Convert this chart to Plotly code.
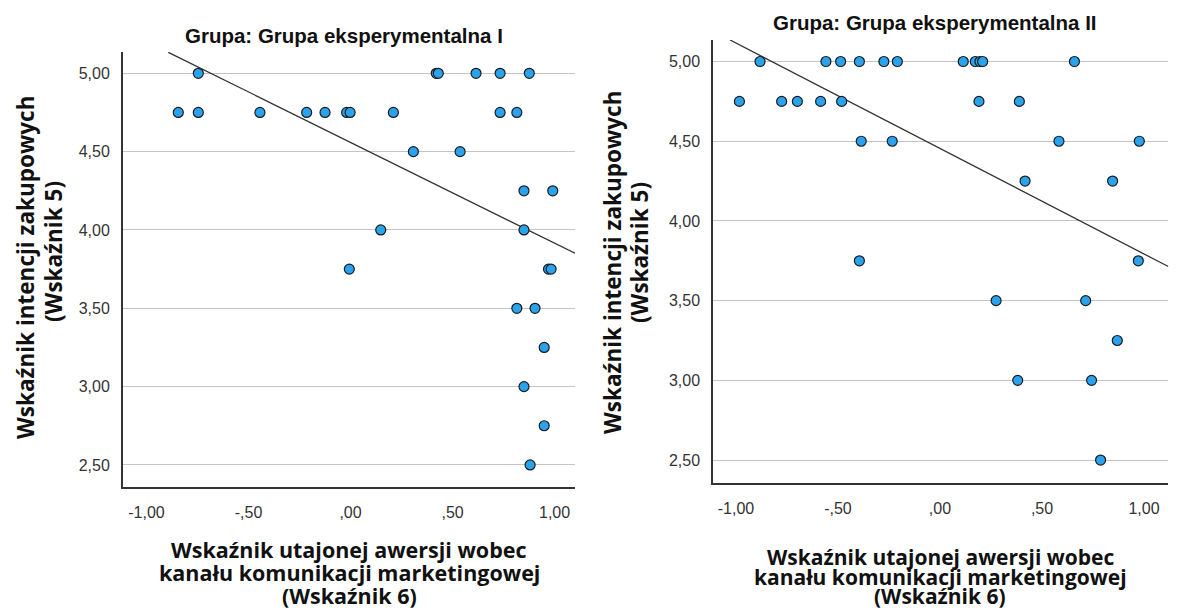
import plotly.graph_objects as go

W, H = 1177, 612

# ---------------- data ----------------
tick_vals_x = [-1.0, -0.5, 0.0, 0.5, 1.0]
tick_text_x = ["-1,00", "-,50", ",00", ",50", "1,00"]
tick_vals_y = [2.5, 3.0, 3.5, 4.0, 4.5, 5.0]
tick_text_y = ["2,50", "3,00", "3,50", "4,00", "4,50", "5,00"]

title_left = "Grupa: Grupa eksperymentalna I"
title_right = "Grupa: Grupa eksperymentalna II"
y_title_lines = ["Wskaźnik intencji zakupowych", "(Wskaźnik 5)"]
x_title_lines = ["Wskaźnik utajonej awersji wobec",
                 "kanału komunikacji marketingowej",
                 "(Wskaźnik 6)"]

g1_x = [-0.746, 0.42, 0.43, 0.615, 0.733, 0.876,
        -0.844, -0.746, -0.444, -0.215, -0.125, -0.019, -0.002, 0.21, 0.733, 0.815,
        0.308, 0.537,
        0.850, 0.991,
        0.148, 0.850,
        -0.006, 0.970, 0.983,
        0.815, 0.904,
        0.949,
        0.850,
        0.949,
        0.880]
g1_y = [5.0, 5.0, 5.0, 5.0, 5.0, 5.0,
        4.75, 4.75, 4.75, 4.75, 4.75, 4.75, 4.75, 4.75, 4.75, 4.75,
        4.5, 4.5,
        4.25, 4.25,
        4.0, 4.0,
        3.75, 3.75, 3.75,
        3.5, 3.5,
        3.25,
        3.0,
        2.75,
        2.5]

g2_x = [-0.882, -0.559, -0.487, -0.395, -0.275, -0.209, 0.114, 0.173, 0.196, 0.209, 0.659,
        -0.983, -0.776, -0.699, -0.585, -0.482, 0.191, 0.389,
        -0.386, -0.234, 0.583, 0.977,
        0.417, 0.846,
        -0.395, 0.972,
        0.275, 0.714,
        0.869,
        0.381, 0.743,
        0.787]
g2_y = [5.0, 5.0, 5.0, 5.0, 5.0, 5.0, 5.0, 5.0, 5.0, 5.0, 5.0,
        4.75, 4.75, 4.75, 4.75, 4.75, 4.75, 4.75,
        4.5, 4.5, 4.5, 4.5,
        4.25, 4.25,
        3.75, 3.75,
        3.5, 3.5,
        3.25,
        3.0, 3.0,
        2.5]

# fit lines (end points)
fit1_x = [-0.893, 1.100]
fit1_y = [5.134, 3.851]
fit2_x = [-1.029, 1.119]
fit2_y = [5.135, 3.714]

# ---------------- styling ----------------
FONT = "Liberation Sans, Arial, sans-serif"
TITLE_FONT = "Open Sans, Liberation Sans, Arial, sans-serif"
MARKER_COLOR = "#2aa3ef"
LINE_DARK = "#333333"
GRID = "#c4c4c4"


def px_x(p):
    return p / W


def px_y(p):
    return 1 - p / H


fig = go.Figure()

marker = dict(size=10, color=MARKER_COLOR, line=dict(color="#1b1b1b", width=1.2))

fig.add_trace(go.Scatter(x=fit1_x, y=fit1_y, mode="lines",
                         line=dict(color=LINE_DARK, width=1.3),
                         xaxis="x", yaxis="y", showlegend=False, hoverinfo="skip"))
fig.add_trace(go.Scatter(x=g1_x, y=g1_y, mode="markers", marker=marker,
                         xaxis="x", yaxis="y", showlegend=False))
fig.add_trace(go.Scatter(x=fit2_x, y=fit2_y, mode="lines",
                         line=dict(color=LINE_DARK, width=1.3),
                         xaxis="x2", yaxis="y2", showlegend=False, hoverinfo="skip"))
fig.add_trace(go.Scatter(x=g2_x, y=g2_y, mode="markers", marker=marker,
                         xaxis="x2", yaxis="y2", showlegend=False))

tickfont = dict(family=FONT, size=16, color="#333333")

common_x = dict(tickvals=tick_vals_x, ticktext=tick_text_x, showgrid=False,
                zeroline=False, showline=True, linecolor=LINE_DARK, linewidth=2,
                ticks="", tickfont=tickfont, ticklabelstandoff=10, fixedrange=True)
common_y = dict(tickvals=tick_vals_y, ticktext=tick_text_y, showgrid=True,
                gridcolor=GRID, gridwidth=1, zeroline=False, showline=True,
                linecolor=LINE_DARK, linewidth=2, ticks="", tickfont=tickfont,
                ticklabelstandoff=8, fixedrange=True)

fig.update_layout(
    width=W, height=H,
    margin=dict(l=0, r=0, t=0, b=0),
    paper_bgcolor="white", plot_bgcolor="white",
    xaxis=dict(domain=[px_x(123), px_x(575)], range=[-1.115, 1.100],
               anchor="y", **common_x),
    yaxis=dict(domain=[px_y(486.7), px_y(52)], range=[2.361, 5.136],
               anchor="x", **common_y),
    xaxis2=dict(domain=[px_x(713.3), px_x(1168.3)], range=[-1.111, 1.119],
                anchor="y2", **common_x),
    yaxis2=dict(domain=[px_y(482.7), px_y(40)], range=[2.358, 5.135],
                anchor="x2", **common_y),
)

annots = []


def add_text(text, x, y, size, angle=0, family=FONT):
    annots.append(dict(text="<b>" + text + "</b>", x=px_x(x), y=px_y(y),
                       xref="paper", yref="paper", showarrow=False,
                       xanchor="center", yanchor="middle", textangle=angle,
                       font=dict(family=family, size=size, color="#111111")))


add_text(title_left, 344, 35, 20.5)
add_text(title_right, 935, 23, 20.5)

add_text(y_title_lines[0], 25, 268, 22.5, -90, TITLE_FONT)
add_text(y_title_lines[1], 53, 252, 22.5, -90, TITLE_FONT)
add_text(y_title_lines[0], 612.5, 262.5, 22.5, -90, TITLE_FONT)
add_text(y_title_lines[1], 640, 253, 22.5, -90, TITLE_FONT)

for line, yc in zip(x_title_lines, [549, 572, 595]):
    add_text(line, 349, yc, 21.5, 0, TITLE_FONT)
for line, yc in zip(x_title_lines, [557, 577, 596]):
    add_text(line, 940, yc, 21, 0, TITLE_FONT)

fig.update_layout(annotations=annots)

fig.write_html("out.html")
